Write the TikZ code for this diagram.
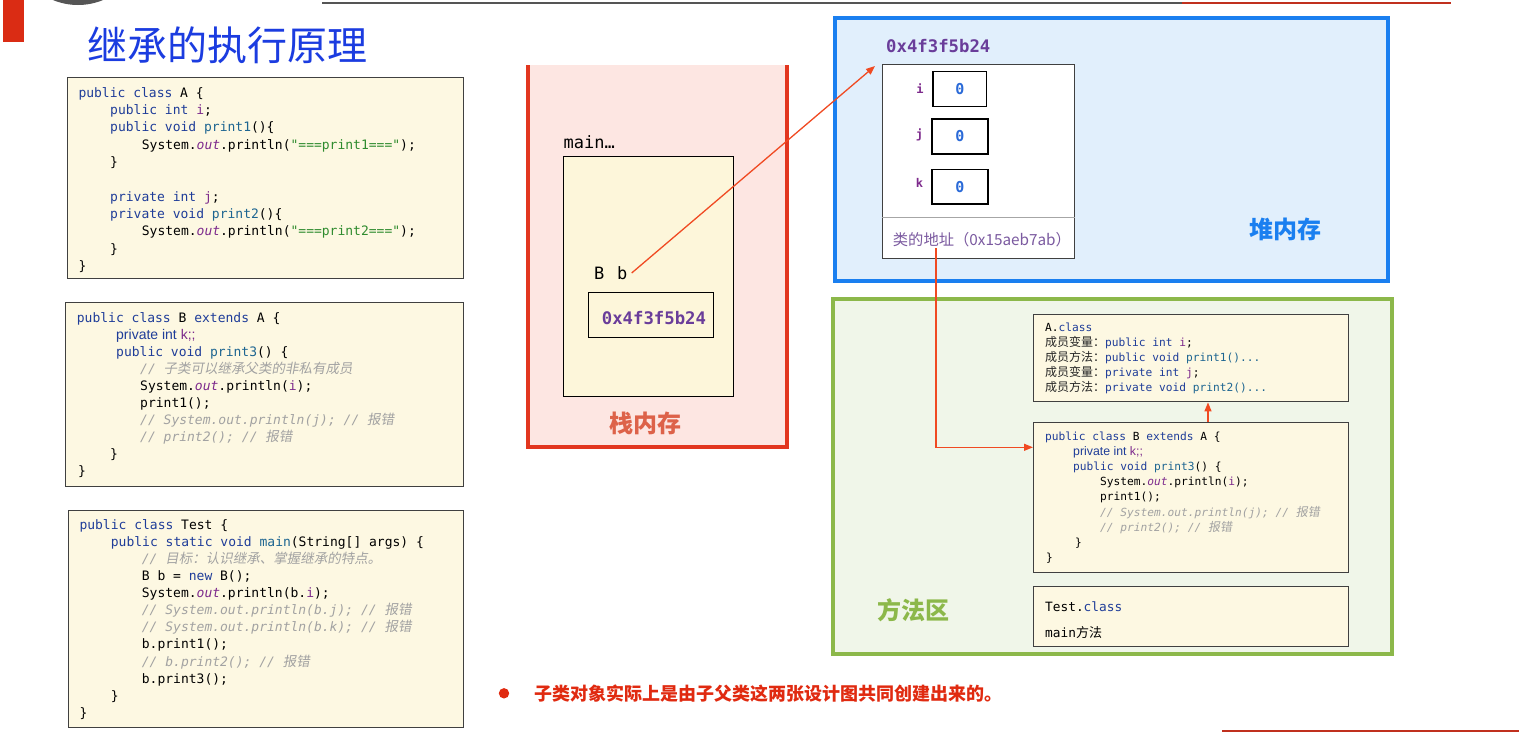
\documentclass[tikz,border=0pt]{standalone}
\usepackage{fontspec}
\setmainfont{Liberation Sans}
\setmonofont{DejaVu Sans Mono}
\newfontfamily\cjk{Noto Sans CJK SC}
\newfontfamily\cjki[FakeSlant=0.18]{Noto Sans CJK SC}
\newfontfamily\arialf{Liberation Sans}
\usetikzlibrary{arrows.meta}
\definecolor{kw}{HTML}{1F3D99}
\definecolor{mt}{HTML}{1D6591}
\definecolor{fd}{HTML}{7D2A8C}
\definecolor{st}{HTML}{2E8B2E}
\definecolor{cm}{HTML}{A2A2A2}
\definecolor{codebg}{HTML}{FDF8E2}
\definecolor{framebg}{HTML}{FDF6DA}
\definecolor{stackred}{HTML}{E2361F}
\definecolor{stackbg}{HTML}{FDE6E2}
\definecolor{stacklbl}{HTML}{DD6249}
\definecolor{heapblue}{HTML}{1A7FF0}
\definecolor{heapbg}{HTML}{E1EFFC}
\definecolor{mgreen}{HTML}{8CB84A}
\definecolor{mbg}{HTML}{F0F6E9}
\definecolor{addr}{HTML}{6A3D9A}
\definecolor{clsaddr}{HTML}{7B5AA0}
\definecolor{zeroblue}{HTML}{2A6AD8}
\definecolor{arrowred}{HTML}{F04A22}
\definecolor{bulletred}{HTML}{E02A10}
\definecolor{titleblue}{HTML}{1B3CE0}
\definecolor{barred}{HTML}{DA2C14}
\definecolor{darkline}{HTML}{555555}
\definecolor{topred}{HTML}{C0301E}
\newcommand\jk[1]{\textcolor{kw}{#1}}
\newcommand\jm[1]{\textcolor{mt}{#1}}
\newcommand\jf[1]{\textcolor{fd}{#1}}
\newcommand\jo{\textcolor{fd}{\itshape out}}
\newcommand\js[1]{\textcolor{st}{#1}}
\newcommand\jc[1]{\textcolor{cm}{\itshape #1}}
\newcommand\jz[1]{{\cjki\fontsize{13.5}{15}\selectfont #1}}
\newcommand\jzs[1]{{\cjki\fontsize{12}{13}\selectfont #1}}
\newcommand\jn[1]{\textcolor{black!85}{\cjk\fontsize{12}{13}\selectfont #1}}
\begin{document}
\begin{tikzpicture}[x=1pt,y=-1pt,
  cA/.style={anchor=base west, inner sep=0pt, font=\fontsize{13}{15}\selectfont\ttfamily},
  cM/.style={anchor=base west, inner sep=0pt, font=\fontsize{11.2}{13}\selectfont\ttfamily},
  codebox/.style={draw=black!75, line width=1.1pt, fill=codebg, anchor=north west, inner sep=0pt},
  fieldbox/.style={draw=black, line width=1.3pt, fill=white, anchor=north west, inner sep=0pt,
     font=\fontsize{15}{15}\selectfont\ttfamily\bfseries, text=zeroblue},
  fieldlbl/.style={inner sep=0pt, font=\fontsize{12}{12}\selectfont\ttfamily\bfseries, text=fd},
  arealbl/.style={inner sep=0pt, font=\cjk\bfseries\fontsize{24}{24}\selectfont},
  redarrow/.style={draw=arrowred, line width=1.3pt, -{Triangle[length=9pt,width=7pt]}}
]
\useasboundingbox (0,0) rectangle (1519,732);
\begin{scope}
\clip (0,0) rectangle (1519,732);
% slide decorations
\fill[barred] (3.3,0) rectangle (24,41.7);
\fill[darkline] (78,-60) circle (65pt);
\draw[darkline, line width=2pt] (322,3) -- (1182,3);
\draw[topred, line width=2pt] (1182,3) -- (1450.7,3);
\draw[topred, line width=2pt] (1222,730.5) -- (1519,730.5);
\end{scope}

% title
\node[inner sep=0pt, font=\cjk\fontsize{40}{40}\selectfont, text=titleblue] (title) at (227,45) {继承的执行原理};

% ---- code box A
\node[codebox, minimum width=396pt, minimum height=201pt] (boxA) at (66.7,77.3) {};
\node[cA] (a1) at (78.3,97.3) {\jk{public class} A \{};
\node[cA] (a2) at (110,114.6) {\jk{public int} \jf{i};};
\node[cA] (a3) at (110,131.9) {\jk{public void} \jm{print1}()\{};
\node[cA] (a4) at (141.7,149.2) {System.\jo.println(\js{"===print1==="});};
\node[cA] (a5) at (110,166.5) {\}};
\node[cA] (a6) at (110,201.1) {\jk{private int} \jf{j};};
\node[cA] (a7) at (110,218.4) {\jk{private void} \jm{print2}()\{};
\node[cA] (a8) at (141.7,235.7) {System.\jo.println(\js{"===print2==="});};
\node[cA] (a9) at (110,253) {\}};
\node[cA] (a10) at (78.3,270.3) {\}};

% ---- code box B
\node[codebox, minimum width=397.7pt, minimum height=183.7pt] (boxB) at (65,302) {};
\node[cA] (b1) at (76.7,322.3) {\jk{public class} B \jk{extends} A \{};
\node[cA] (b2) at (116,339.4) {\arialf\fontsize{14}{15}\selectfont\color{kw}private int \color{fd}k;;};
\node[cA] (b3) at (116,356.4) {\jk{public void} \jm{print3}() \{};
\node[cA] (b4) at (140,373.5) {\jc{// \jz{子类可以继承父类的非私有成员}}};
\node[cA] (b5) at (140,390.5) {System.\jo.println(\jf{i});};
\node[cA] (b6) at (140,407.6) {print1();};
\node[cA] (b7) at (140,424.6) {\jc{// System.out.println(j); // \jz{报错}}};
\node[cA] (b8) at (140,441.7) {\jc{// print2(); // \jz{报错}}};
\node[cA] (b9) at (110,458.7) {\}};
\node[cA] (b10) at (78,475.8) {\}};

% ---- code box Test
\node[codebox, minimum width=394.4pt, minimum height=216.7pt] (boxT) at (68.3,510) {};
\node[cA] (t1) at (79.3,529) {\jk{public class} Test \{};
\node[cA] (t2) at (110.7,546.1) {\jk{public static void} \jm{main}(String[] args) \{};
\node[cA] (t3) at (141.7,563.2) {\jc{// \jz{目标：认识继承、掌握继承的特点。}}};
\node[cA] (t4) at (141.7,580.4) {B b = \jk{new} B();};
\node[cA] (t5) at (141.7,597.5) {System.\jo.println(b.\jf{i});};
\node[cA] (t6) at (141.7,614.6) {\jc{// System.out.println(b.j); // \jz{报错}}};
\node[cA] (t7) at (141.7,631.7) {\jc{// System.out.println(b.k); // \jz{报错}}};
\node[cA] (t8) at (141.7,648.8) {b.print1();};
\node[cA] (t9) at (141.7,666) {\jc{// b.print2(); // \jz{报错}}};
\node[cA] (t10) at (141.7,683.1) {b.print3();};
\node[cA] (t11) at (110.7,700.2) {\}};
\node[cA] (t12) at (79.3,717.3) {\}};

% ---- stack
\fill[stackbg] (528,65) rectangle (787,447);
\draw[stackred, line width=3.5pt] (528,65) -- (528,447) -- (787,447) -- (787,65);
\node[anchor=west, inner sep=0pt, font=\fontsize{17}{17}\selectfont\ttfamily] (mainlbl) at (563.5,141.7) {main…};
\node[draw=black, line width=1.3pt, fill=framebg, anchor=north west, inner sep=0pt,
      minimum width=170.3pt, minimum height=240pt] (frame) at (562.7,155.7) {};
\node[anchor=west, inner sep=0pt, font=\fontsize{17}{17}\selectfont\ttfamily] (bvar) at (594,273) {B\hspace{12.8pt}b};
\node[draw=black, line width=1.3pt, anchor=north west, inner sep=0pt,
      minimum width=125pt, minimum height=45pt] (addrbox) at (587.7,291.7) {};
\node[anchor=west, inner sep=0pt, font=\fontsize{17.3}{17}\selectfont\ttfamily\bfseries, text=addr] (addrtxt) at (601.7,317.7) {0x4f3f5b24};
\node[arealbl, text=stacklbl] (stacklbl) at (645,423) {栈内存};

% ---- heap
\draw[heapblue, line width=4pt, fill=heapbg] (835,18) rectangle (1388,281);
\node[anchor=west, inner sep=0pt, font=\fontsize{17.3}{17}\selectfont\ttfamily\bfseries, text=addr] (objaddr) at (886,45.7) {0x4f3f5b24};
\node[draw=black!75, line width=1pt, fill=white, anchor=north west, inner sep=0pt,
      minimum width=192.6pt, minimum height=194pt] (obj) at (881.7,64.3) {};
\draw[gray!70, line width=1pt] (obj.west |- 0,217.3) -- (obj.east |- 0,217.3);
\node[fieldbox, minimum width=53.7pt, minimum height=35pt] (fi) at (932.3,70.7) {0};
\node[fieldbox, minimum width=56pt, minimum height=35pt] (fj) at (931.3,118.3) {0};
\node[fieldbox, minimum width=56pt, minimum height=34.3pt] (fk) at (931.3,169) {0};
\node[fieldlbl] (li) at (920,88.3) {i};
\node[fieldlbl] (lj) at (919.5,135) {j};
\node[fieldlbl] (lk) at (919.5,183.3) {k};
\node[anchor=west, inner sep=0pt, font=\cjk\fontsize{15.3}{16}\selectfont, text=clsaddr] (clsaddr) at (892.7,239.3) {类的地址（0x15aeb7ab）};
\node[arealbl, text=heapblue] (heaplbl) at (1285.5,229) {堆内存};

% ---- method area
\draw[mgreen, line width=4pt, fill=mbg] (833,299) rectangle (1392,654);
\node[arealbl, text=mgreen] (methlbl) at (913.7,610) {方法区};
\node[codebox, minimum width=314.7pt, minimum height=87.3pt] (mA) at (1033,314) {};
\node[cM] (ma1) at (1045,331.8) {A.\jk{class}};
\node[cM] (ma2) at (1045,346.8) {\jn{成员变量：}\jk{public int} \jf{i};};
\node[cM] (ma3) at (1045,361.8) {\jn{成员方法：}\jk{public void} \jm{print1()...}};
\node[cM] (ma4) at (1045,376.8) {\jn{成员变量：}\jk{private int} \jf{j};};
\node[cM] (ma5) at (1045,391.3) {\jn{成员方法：}\jk{private void} \jm{print2()...}};

\node[codebox, minimum width=314.7pt, minimum height=150.6pt] (mB) at (1033,421.7) {};
\node[cM] (mb1) at (1045,440.8) {\jk{public class} B \jk{extends} A \{};
\node[cM] (mb2) at (1073,455.2) {\arialf\fontsize{12.3}{13}\selectfont\color{kw}private int \color{fd}k;;};
\node[cM] (mb3) at (1073,470.8) {\jk{public void} \jm{print3}() \{};
\node[cM] (mb4) at (1100,485.2) {System.\jo.println(\jf{i});};
\node[cM] (mb5) at (1100,500.8) {print1();};
\node[cM] (mb6) at (1100,516.5) {\jc{// System.out.println(j); // \jzs{报错}}};
\node[cM] (mb7) at (1100,531.2) {\jc{// print2(); // \jzs{报错}}};
\node[cM] (mb8) at (1075,546.5) {\}};
\node[cM] (mb9) at (1046,561.8) {\}};

\node[codebox, minimum width=314.7pt, minimum height=59.7pt] (mT) at (1033,586) {};
\node[cA, font=\fontsize{12.8}{14}\selectfont\ttfamily] (mt1) at (1045,611.3) {Test.\jk{class}};
\node[cA, font=\fontsize{12.8}{14}\selectfont\ttfamily] (mt2) at (1045,637.3) {main{\cjk\fontsize{13}{14}\selectfont 方法}};

% ---- connectors
\coordinate (addrpt) at (936,248.3);
\coordinate (upx) at (1208,0);
\draw[redarrow] ([xshift=4pt]bvar.east) -- ([shift={(-6.7pt,-1.7pt)}]obj.north west);
\draw[redarrow] (addrpt) |- (mB.west |- 0,447.3);
\draw[redarrow] (mB.north -| upx) -- (mA.south -| upx);

% ---- bottom note
\node[circle, fill=bulletred, minimum size=10.4pt, inner sep=0pt] (bullet) at (504,693.3) {};
\node[anchor=west, inner sep=0pt, font=\cjk\bfseries\fontsize{18}{18}\selectfont, text=bulletred] (note) at (534,693.3) {子类对象实际上是由子父类这两张设计图共同创建出来的。};
\end{tikzpicture}
\end{document}
